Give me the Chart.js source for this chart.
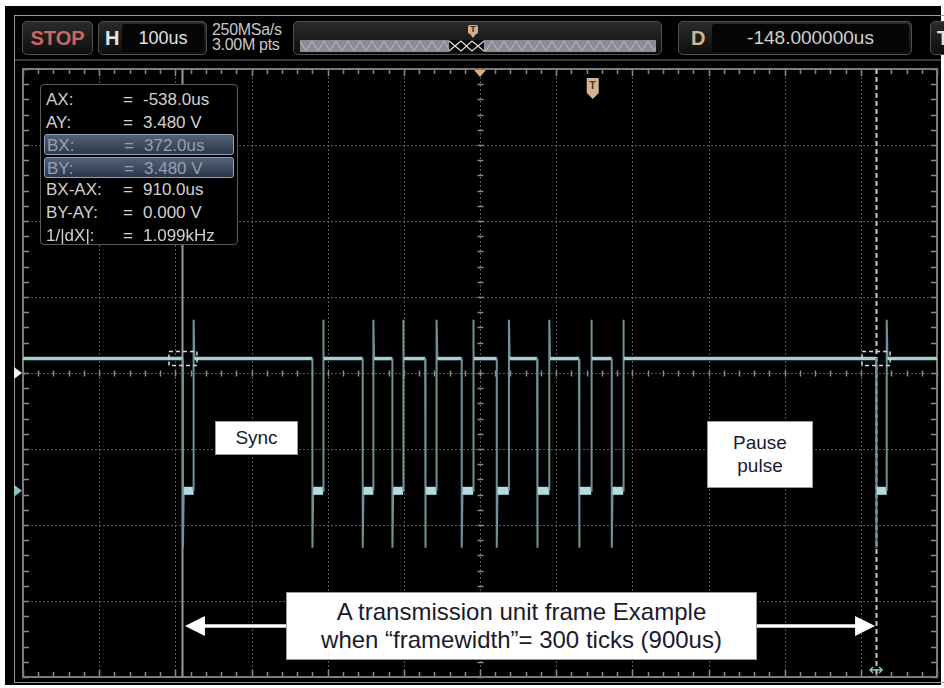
<!DOCTYPE html>
<html>
<head>
<meta charset="utf-8">
<script src="https://cdn.jsdelivr.net/npm/chart.js@4/dist/chart.umd.min.js"></script>
<style>
html,body{margin:0;padding:0;background:#fff;}
#wrap{position:relative;width:944px;height:688px;overflow:hidden;background:#fff;font-family:"Liberation Sans",Arial,sans-serif;}
#panel{position:absolute;left:5px;top:6px;width:936px;height:679px;background:#000;}
#frame{position:absolute;left:14px;top:15px;width:940px;height:668px;border:1px solid #9a9a9a;border-right:none;box-sizing:border-box;}
#sep{position:absolute;left:15px;top:59px;width:926px;height:2px;background:#3a3a3a;}
canvas{position:absolute;left:0;top:0;}
.btn{position:absolute;top:21px;height:34px;box-sizing:border-box;border:1px solid #505050;border-radius:5px;background:linear-gradient(#2a2a2a,#0e0e0e);}
.field{position:absolute;top:2px;bottom:2px;background:#050505;border-radius:3px;color:#e2e2e2;display:flex;align-items:center;justify-content:center;}
.lbl{position:absolute;top:0;bottom:0;display:flex;align-items:center;font-weight:bold;font-size:20px;}
#rate{position:absolute;left:212px;top:23px;color:#c8c8c8;font-size:16px;line-height:14.5px;letter-spacing:-0.3px;}
#tpin{position:absolute;left:468px;top:25px;width:10px;height:9px;background:#cfae92;border-radius:2px;color:#3a2a20;font-size:9px;line-height:9px;text-align:center;font-weight:bold;}
#tpin:after{content:"";position:absolute;left:2px;top:9px;border-left:3px solid transparent;border-right:3px solid transparent;border-top:4px solid #cfae92;}
#info{position:absolute;left:40px;top:84px;width:198px;height:161px;box-sizing:border-box;border:1px solid #5c5c5c;border-radius:4px;background:#000;font-size:17px;color:#d0d0d0;}
.row{position:absolute;left:3px;width:190px;height:21px;line-height:21px;box-sizing:border-box;}
.row.hl{background:linear-gradient(#52627a,#2b3749);border:1px solid #8ea2ba;border-radius:3px;color:#98a0ab;}
.row span{position:absolute;top:0;}
.note{position:absolute;background:#fff;border:1px solid #9a9a9a;box-sizing:border-box;color:#1a1a2c;text-align:center;}
</style>
</head>
<body>
<div id="wrap">
  <div id="panel"></div>
  <div id="frame"></div>
  <div id="sep"></div>

  <div class="btn" style="left:22px;width:71px;"><div class="lbl" style="left:0;right:0;justify-content:center;color:#c96767;">STOP</div></div>
  <div class="btn" style="left:98px;width:109px;">
    <div class="lbl" style="left:6px;color:#e4e4e4;">H</div>
    <div class="field" style="left:23px;right:2px;font-size:18px;">100us</div>
  </div>
  <div id="rate">250MSa/s<br>3.00M pts</div>
  <div class="btn" style="left:293px;width:369px;">
    <svg style="position:absolute;left:6px;top:18px;" width="356" height="12" id="zig"></svg>
  </div>
  <div id="tpin">T</div>
  <div class="btn" style="left:678px;width:234px;">
    <div class="lbl" style="left:12px;color:#cfb592;">D</div>
    <div class="field" style="left:33px;right:2px;font-size:19px;color:#d0d0d0;">-148.000000us</div>
  </div>
  <div class="btn" style="left:930px;width:30px;"><div class="lbl" style="left:6px;color:#e4e4e4;">T</div></div>

  <canvas id="c" width="944" height="688" style="width:944px;height:688px;"></canvas>

  <div id="info"></div>

  <div class="note" style="left:215px;top:421px;width:83px;height:34px;font-size:19px;line-height:32px;">Sync</div>
  <div class="note" style="left:707px;top:421px;width:106px;height:67px;font-size:19px;line-height:23px;padding-top:9px;">Pause<br>pulse</div>
  <div class="note" style="left:286px;top:592px;width:471px;height:68px;font-size:24px;line-height:28px;padding-top:5px;">A transmission unit frame Example<br>when “framewidth”= 300 ticks (900us)</div>
</div>

<script>
// ---------------- data ----------------
// horizontal: 100 us/div, 12 divisions, delay -148 us at screen centre
const xGridUs = [-748, -648, -548, -448, -348, -248, -148, -48, 52, 152, 252, 352, 452];
// vertical: 2 V/div, 8 divisions
const yGridV = [-4.9, -2.9, -0.9, 1.1, 3.1, 5.1, 7.1, 9.1, 11.1];

// pulse edges (us)
const pulseFallUs = [-538, -368, -302, -263, -220, -172, -126, -73, -18, 25, 372];
const pulseRiseUs = [-524, -354, -288, -249, -205, -157, -110, -57, -2, 40, 386];
const levelHighV = 3.48;
const levelLowV = 0.0;
const overshootV = 4.5;
const undershootV = -1.5;

const delayUs = -148;
const triggerTimeUs = 0;
const triggerLevelV = 3.1;
const cursorAUs = -538;
const cursorBUs = 372;
const cursorYV = 3.48;
const frameArrowV = -3.56;

const cursorLabels = ['AX:', 'AY:', 'BX:', 'BY:', 'BX-AX:', 'BY-AY:', '1/|dX|:'];
const cursorValues = ['-538.0us', '3.480 V', '372.0us', '3.480 V', '910.0us', '0.000 V', '1.099kHz'];
const cursorHighlighted = [false, false, true, true, false, false, false];

// ---------------- build waveform table ----------------
const waveform = [{x: xGridUs[0], y: levelHighV}];
pulseFallUs.forEach((f, i) => {
  const r = pulseRiseUs[i];
  waveform.push({x: f, y: levelHighV});
  waveform.push({x: f, y: undershootV});
  waveform.push({x: f + 1, y: levelLowV});
  waveform.push({x: r, y: levelLowV});
  waveform.push({x: r, y: overshootV});
  waveform.push({x: r + 1, y: levelHighV});
});
waveform.push({x: xGridUs[xGridUs.length - 1], y: levelHighV});

// ---------------- info box ----------------
const info = document.getElementById('info');
cursorLabels.forEach((lab, i) => {
  const d = document.createElement('div');
  d.className = 'row' + (cursorHighlighted[i] ? ' hl' : '');
  d.style.top = (4 + 22.6 * i) + 'px';
  d.innerHTML = '<span style="left:2px">' + lab + '</span><span style="left:79px">=</span><span style="left:99px">' + cursorValues[i] + '</span>';
  info.appendChild(d);
});

// slider zigzag decoration
(function(){
  const svg = document.getElementById('zig');
  let pts = '';
  for (let i = 0; i <= 60; i++) pts += (i * 6) + ',' + (i % 2 ? 11 : 1) + ' ';
  svg.innerHTML = '<rect x="0" y="0" width="356" height="12" fill="#8d8b95"/>' +
    '<polyline points="' + pts + '" fill="none" stroke="#bcbac4" stroke-width="1"/>' +
    '<rect x="149" y="0" width="35" height="12" fill="#050505"/>' +
    '<polyline points="149,1 161,11 172,1 184,11" fill="none" stroke="#e0e0e0" stroke-width="1.2"/>' +
    '<polyline points="149,11 161,1 172,11 184,1" fill="none" stroke="#e0e0e0" stroke-width="1.2"/>';
})();

// ---------------- scope plugin ----------------
function tri(ctx, pts, color) {
  ctx.beginPath();
  ctx.moveTo(pts[0][0], pts[0][1]);
  for (let i = 1; i < pts.length; i++) ctx.lineTo(pts[i][0], pts[i][1]);
  ctx.closePath();
  ctx.fillStyle = color;
  ctx.fill();
}

const scopePlugin = {
  id: 'scope',
  beforeDatasetsDraw(chart) {
    const {ctx, chartArea: a, scales: {x, y}} = chart;
    const midX = Math.floor(xGridUs.length / 2), midY = Math.floor(yGridV.length / 2);
    ctx.save();
    // dotted grid
    ctx.lineWidth = 1;
    ctx.setLineDash([2, 2]);
    ctx.strokeStyle = '#585858';
    xGridUs.forEach((v, i) => {
      if (i === 0 || i === xGridUs.length - 1) return;
      const px = Math.round(x.getPixelForValue(v)) + 0.5;
      ctx.beginPath(); ctx.moveTo(px, a.top); ctx.lineTo(px, a.bottom); ctx.stroke();
    });
    yGridV.forEach((v, i) => {
      if (i === 0 || i === yGridV.length - 1) return;
      const py = Math.round(y.getPixelForValue(v)) + 0.5;
      ctx.beginPath(); ctx.moveTo(a.left, py); ctx.lineTo(a.right, py); ctx.stroke();
    });
    ctx.setLineDash([]);
    // minor ticks: rulers and centre cross
    const xStep = (xGridUs[1] - xGridUs[0]) / 5;
    const yStep = (yGridV[1] - yGridV[0]) / 5;
    const cx = Math.round(x.getPixelForValue(xGridUs[midX])) + 0.5;
    const cy = Math.round(y.getPixelForValue(yGridV[midY])) + 0.5;
    ctx.strokeStyle = '#8a8a8a';
    ctx.lineWidth = 1.5;
    for (let v = xGridUs[0]; v <= xGridUs[xGridUs.length - 1] + 0.01; v += xStep) {
      const px = Math.round(x.getPixelForValue(v)) + 0.5;
      const major = Math.abs(((v - xGridUs[0]) / (xStep * 5)) - Math.round((v - xGridUs[0]) / (xStep * 5))) < 0.01;
      const L = major ? 7 : 5;
      ctx.beginPath();
      ctx.moveTo(px, a.top); ctx.lineTo(px, a.top + L);
      ctx.moveTo(px, a.bottom); ctx.lineTo(px, a.bottom - L);
      ctx.moveTo(px, cy - 3); ctx.lineTo(px, cy + 3);
      ctx.stroke();
    }
    for (let v = yGridV[0]; v <= yGridV[yGridV.length - 1] + 0.01; v += yStep) {
      const py = Math.round(y.getPixelForValue(v)) + 0.5;
      ctx.beginPath();
      ctx.moveTo(a.left, py); ctx.lineTo(a.left + 6, py);
      ctx.moveTo(a.right, py); ctx.lineTo(a.right - 6, py);
      ctx.moveTo(cx - 3, py); ctx.lineTo(cx + 3, py);
      ctx.stroke();
    }
    // border
    ctx.strokeStyle = '#7c7c7c';
    ctx.lineWidth = 2;
    ctx.strokeRect(a.left, a.top, a.right - a.left, a.bottom - a.top);
    // cursors
    const ax = Math.round(x.getPixelForValue(cursorAUs)) + 0.5;
    const bx = Math.round(x.getPixelForValue(cursorBUs)) + 0.5;
    ctx.lineWidth = 2;
    ctx.strokeStyle = '#9a9a9a';
    ctx.beginPath(); ctx.moveTo(ax - 1, a.top); ctx.lineTo(ax - 1, a.bottom); ctx.stroke();
    ctx.strokeStyle = '#c4c4c4';
    ctx.setLineDash([5, 3]);
    ctx.beginPath(); ctx.moveTo(bx, a.top); ctx.lineTo(bx, a.bottom); ctx.stroke();
    ctx.restore();
  },
  afterDatasetsDraw(chart) {
    const {ctx, chartArea: a, scales: {x, y}} = chart;
    ctx.save();
    const ax = x.getPixelForValue(cursorAUs);
    const bx = x.getPixelForValue(cursorBUs);
    const cyv = y.getPixelForValue(cursorYV);
    // cursor crossing brackets
    ctx.strokeStyle = '#d8d8d8';
    ctx.lineWidth = 1.5;
    ctx.setLineDash([4, 3]);
    [ax, bx].forEach(px => {
      ctx.strokeRect(px - 14, cyv - 7, 28, 14);
    });
    ctx.setLineDash([]);
    // centre (delay) marker at top
    const dx = x.getPixelForValue(delayUs);
    tri(ctx, [[dx - 6, a.top + 1], [dx + 6, a.top + 1], [dx, a.top + 8]], '#e3ab7c');
    // trigger time marker
    const tx = x.getPixelForValue(triggerTimeUs);
    ctx.fillStyle = '#d6b192';
    ctx.beginPath();
    ctx.moveTo(tx - 6, a.top + 9); ctx.lineTo(tx + 6, a.top + 9); ctx.lineTo(tx + 6, a.top + 24);
    ctx.lineTo(tx, a.top + 30); ctx.lineTo(tx - 6, a.top + 24); ctx.closePath(); ctx.fill();
    ctx.fillStyle = '#4a3424';
    ctx.font = 'bold 11px "Liberation Sans", Arial';
    ctx.textAlign = 'center'; ctx.textBaseline = 'middle';
    ctx.fillText('T', tx, a.top + 17);
    // left markers: trigger level and channel ground
    const tly = y.getPixelForValue(triggerLevelV);
    tri(ctx, [[a.left - 9, tly - 6], [a.left - 9, tly + 6], [a.left - 1, tly]], '#f0f0f0');
    const gy = y.getPixelForValue(levelLowV);
    tri(ctx, [[a.left - 9, gy - 6], [a.left - 9, gy + 6], [a.left - 1, gy]], '#86c4c8');
    // small marker at bottom of cursor B
    ctx.strokeStyle = '#86c4c8'; ctx.lineWidth = 1.5;
    ctx.beginPath();
    ctx.moveTo(bx - 6, a.bottom - 7); ctx.lineTo(bx + 6, a.bottom - 7);
    ctx.moveTo(bx - 3, a.bottom - 10); ctx.lineTo(bx - 6, a.bottom - 7); ctx.lineTo(bx - 3, a.bottom - 4);
    ctx.moveTo(bx + 3, a.bottom - 10); ctx.lineTo(bx + 6, a.bottom - 7); ctx.lineTo(bx + 3, a.bottom - 4);
    ctx.stroke();
    // frame-width double arrow (A cursor -> B cursor)
    const ay2 = y.getPixelForValue(frameArrowV);
    const tipA = ax + 2, tipB = bx - 1;
    ctx.strokeStyle = '#ffffff'; ctx.lineWidth = 3.5;
    ctx.beginPath(); ctx.moveTo(tipA + 15, ay2); ctx.lineTo(tipB - 15, ay2); ctx.stroke();
    tri(ctx, [[tipA, ay2], [tipA + 20, ay2 - 10], [tipA + 20, ay2 + 10]], '#ffffff');
    tri(ctx, [[tipB, ay2], [tipB - 20, ay2 - 10], [tipB - 20, ay2 + 10]], '#ffffff');
    ctx.restore();
  }
};

const isEdge = c => Math.abs(c.p1.parsed.x - c.p0.parsed.x) < 2;
const isLow = c => c.p0.parsed.y < (levelHighV + levelLowV) / 2 && c.p1.parsed.y < (levelHighV + levelLowV) / 2;

new Chart(document.getElementById('c'), {
  type: 'line',
  data: {
    datasets: [{
      label: 'CH1',
      data: waveform,
      borderColor: '#a3cfd3',
      borderWidth: 3,
      pointRadius: 0,
      tension: 0,
      fill: false,
      borderCapStyle: 'butt',
      segment: {
        borderColor: c => isEdge(c) ? '#6f929a' : (isLow(c) ? '#b2dcdf' : '#a3cfd3'),
        borderWidth: c => isEdge(c) ? 2 : (isLow(c) ? 8 : 3.5)
      }
    }]
  },
  options: {
    responsive: false,
    animation: false,
    devicePixelRatio: 1,
    layout: {padding: {left: 23, right: 7, top: 69, bottom: 11}},
    plugins: {legend: {display: false}, tooltip: {enabled: false}},
    scales: {
      x: {type: 'linear', min: xGridUs[0], max: xGridUs[xGridUs.length - 1], display: false},
      y: {type: 'linear', min: yGridV[0], max: yGridV[yGridV.length - 1], display: false}
    }
  },
  plugins: [scopePlugin]
});
</script>
</body>
</html>
